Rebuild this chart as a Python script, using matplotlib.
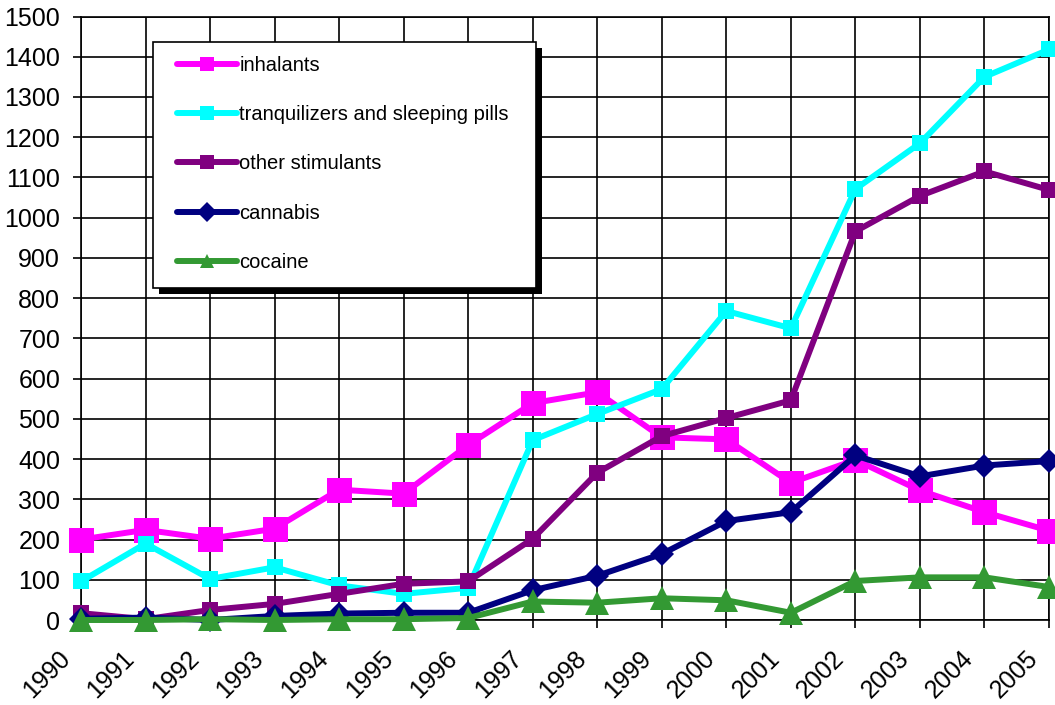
import matplotlib
matplotlib.use("Agg")
import matplotlib.pyplot as plt
import matplotlib.patheffects as pe
from matplotlib.patches import Rectangle
from matplotlib.transforms import ScaledTranslation

years = list(range(1990, 2006))

inhalants = [200, 224, 202, 227, 324, 314, 435, 539, 566, 454, 449, 341, 398, 322, 268, 222]
tranquilizers = [96, 190, 102, 131, 86, 65, 80, 447, 512, 574, 768, 725, 1071, 1185, 1350, 1418]
other_stimulants = [17, 2, 25, 40, 65, 90, 96, 202, 366, 457, 502, 546, 966, 1054, 1115, 1069]
cannabis = [3, 6, 0, 10, 16, 18, 18, 74, 110, 164, 246, 268, 409, 357, 384, 395]
cocaine = [0, 0, 2, 0, 2, 2, 5, 46, 43, 54, 49, 18, 97, 106, 106, 82]

series_names = ["inhalants", "tranquilizers and sleeping pills", "other stimulants",
                "cannabis", "cocaine"]
series_values = [inhalants, tranquilizers, other_stimulants, cannabis, cocaine]
series_colors = ["#FF00FF", "#00FFFF", "#800080", "#000080", "#339933"]
series_markers = ["s", "s", "s", "D", "^"]
series_msizes = [18, 12, 12, 12, 17]

y_ticks = list(range(0, 1501, 100))

plt.rcParams["font.family"] = ["Liberation Sans", "DejaVu Sans"]

fig = plt.figure(figsize=(10.55, 7.05), dpi=100)
ax = fig.add_axes([81 / 1055, 1 - 620 / 705, 968 / 1055, 603.5 / 705])

for name, vals, col, mk, ms in zip(series_names, series_values, series_colors,
                                   series_markers, series_msizes):
    ax.plot(years, vals, color=col, lw=4.3, marker=mk, markersize=ms,
            markeredgewidth=0, label=name, clip_on=False,
            solid_joinstyle="round", zorder=3)

ax.set_xlim(1990, 2005)
ax.set_ylim(0, 1500)
ax.set_xticks(years)
ax.set_yticks(y_ticks)
ax.grid(True, color="black", linewidth=1.2)
ax.set_axisbelow(True)
for sp in ax.spines.values():
    sp.set_color("black")
    sp.set_linewidth(1.2)

ax.tick_params(axis="both", direction="out", length=6, width=1.2, color="black",
               labelsize=18)
ax.tick_params(axis="y", pad=9)
ax.tick_params(axis="x", pad=13)
offset = ScaledTranslation(-4.5 / 72, 0, fig.dpi_scale_trans)
for lab in ax.get_xticklabels():
    lab.set_rotation(45)
    lab.set_ha("right")
    lab.set_va("top")
    lab.set_transform(lab.get_transform() + offset)

# legend box with solid black shadow
box = Rectangle((72 / 968, (620 - 288) / 603.5), 383 / 968, 246 / 603.5,
                transform=ax.transAxes, facecolor="white", edgecolor="black",
                linewidth=1.2, zorder=4, clip_on=False)
box.set_path_effects([
    pe.withSimplePatchShadow(offset=(4.5, -4.5), shadow_rgbFace="black", alpha=1.0)
])
ax.add_patch(box)

leg = ax.legend(loc="upper left", bbox_to_anchor=(96 / 968, (620 - 56) / 603.5),
                borderaxespad=0, fontsize=14.5, handlelength=3.0,
                handletextpad=0.1, labelspacing=1.5, borderpad=0,
                frameon=False)
for ln in leg.get_lines():
    ln.set_markersize(10)
    ln.set_solid_capstyle("round")
leg.set_zorder(5)

fig.savefig("out.png", dpi=100, facecolor="white")
